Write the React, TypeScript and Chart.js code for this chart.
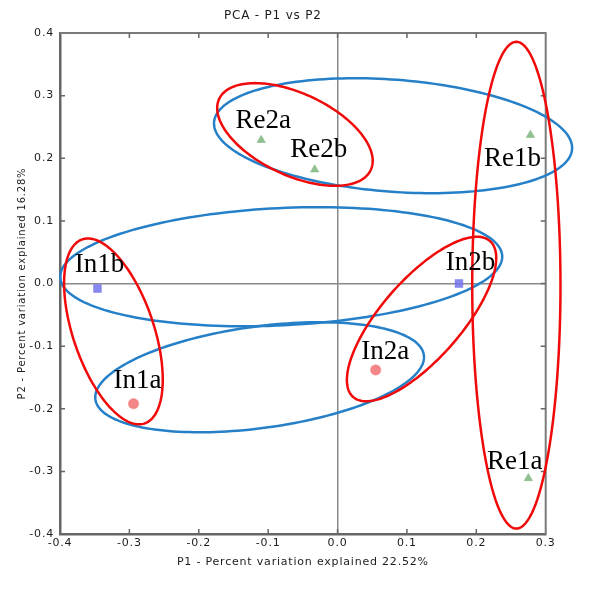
import React, { useEffect, useRef } from 'react';
import { Chart, registerables } from 'chart.js';
Chart.register(...registerables);

// ---- Data ----
const reNames = ['Re2a', 'Re2b', 'Re1b', 'Re1a'];
const reX = [-0.110, -0.033, 0.278, 0.275];
const reY = [0.229, 0.182, 0.237, -0.311];

const inbNames = ['In1b', 'In2b'];
const inbX = [-0.346, 0.175];
const inbY = [-0.008, 0.0];

const inaNames = ['In1a', 'In2a'];
const inaX = [-0.294, 0.055];
const inaY = [-0.192, -0.138];

// Group ellipses (center + two half-axis vectors, in data units)
const blueCX = [0.080, -0.0812, -0.1123];
const blueCY = [0.236, 0.0268, -0.1497];
const blueUX = [0.258, 0.3185, 0.2367];
const blueUY = [-0.0216, 0.0172, 0.0354];
const blueVX = [0.0061, -0.0041, -0.0098];
const blueVY = [0.0892, 0.0935, 0.0804];

const redCX = [-0.0614, 0.2577, -0.3230, 0.1211];
const redCY = [0.2380, -0.0027, -0.0765, -0.0567];
const redUX = [0.1092, 0.0, 0.0448, 0.0986];
const redUY = [-0.0568, 0.3887, -0.1470, 0.1245];
const redVX = [0.0252, 0.0636, 0.0552, 0.0431];
const redVY = [0.0591, 0.0, 0.0205, -0.0417];

const xTitle = 'P1 - Percent variation explained 22.52%';
const yTitle = 'P2 - Percent variation explained 16.28%';
const chartTitle = 'PCA - P1 vs P2';

// label offsets in pixels (style, not data)
const labelOffsets: Record<string, [number, number]> = {
  Re2a: [2, -12], Re2b: [4, -12.6], Re1b: [-18, 31], Re1a: [-13.6, -9.4],
  In1b: [2, -16.6], In2b: [11.5, -13.3], In1a: [4, -16], In2a: [9.5, -11],
};

const SANS = 'DejaVu Sans';
const TXT = '#1c1c1c';

const toPts = (xs: number[], ys: number[]) => xs.map((x, i) => ({ x, y: ys[i] }));

const isZero = (v: any) => v !== undefined && Math.abs(v) < 1e-9;
const fmt = (v: any) => (Math.abs(Number(v)) < 1e-9 ? '0.0' : Number(v).toFixed(1));

export default function App() {
  const ref = useRef<HTMLCanvasElement>(null);
  useEffect(() => {
    const canvas = ref.current!;

    const spacingPlugin = {
      id: 'spacing',
      beforeDraw(chart: any) {
        chart.ctx.letterSpacing = '0.8px';
      },
    };

    const framePlugin = {
      id: 'frame',
      beforeDatasetsDraw(chart: any) {
        const { ctx, chartArea: a, scales } = chart;
        ctx.save();
        ctx.letterSpacing = '0px';
        ctx.strokeStyle = '#7a7a7a';
        ctx.lineWidth = 2;
        ctx.beginPath();
        ctx.moveTo(a.left, a.top);
        ctx.lineTo(a.right, a.top);
        ctx.lineTo(a.right, a.bottom);
        ctx.stroke();
        ctx.strokeStyle = '#666';
        ctx.lineWidth = 1.5;
        const L = 5;
        ctx.beginPath();
        scales.x.ticks.forEach((t: any) => {
          if (Math.abs(t.value - scales.x.min) < 1e-9 || Math.abs(t.value - scales.x.max) < 1e-9) return;
          const px = scales.x.getPixelForValue(t.value);
          ctx.moveTo(px, a.bottom); ctx.lineTo(px, a.bottom - L);
          ctx.moveTo(px, a.top); ctx.lineTo(px, a.top + L);
        });
        scales.y.ticks.forEach((t: any) => {
          if (Math.abs(t.value - scales.y.min) < 1e-9 || Math.abs(t.value - scales.y.max) < 1e-9) return;
          const py = scales.y.getPixelForValue(t.value);
          ctx.moveTo(a.left, py); ctx.lineTo(a.left + L, py);
          ctx.moveTo(a.right, py); ctx.lineTo(a.right - L, py);
        });
        ctx.stroke();
        ctx.restore();
      },
    };

    const drawEllipse = (chart: any, cx: number, cy: number, ux: number, uy: number, vx: number, vy: number, color: string) => {
      const { ctx, scales } = chart;
      ctx.beginPath();
      const N = 180;
      for (let i = 0; i <= N; i++) {
        const t = (i / N) * Math.PI * 2;
        const dx = cx + ux * Math.cos(t) + vx * Math.sin(t);
        const dy = cy + uy * Math.cos(t) + vy * Math.sin(t);
        const px = scales.x.getPixelForValue(dx);
        const py = scales.y.getPixelForValue(dy);
        if (i === 0) ctx.moveTo(px, py); else ctx.lineTo(px, py);
      }
      ctx.closePath();
      ctx.strokeStyle = color;
      ctx.lineWidth = 2.5;
      ctx.stroke();
    };

    const ellipsePlugin = {
      id: 'ellipses',
      afterDatasetsDraw(chart: any) {
        const { ctx } = chart;
        ctx.save();
        blueCX.forEach((_, i) => drawEllipse(chart, blueCX[i], blueCY[i], blueUX[i], blueUY[i], blueVX[i], blueVY[i], 'rgb(38,128,200)'));
        redCX.forEach((_, i) => drawEllipse(chart, redCX[i], redCY[i], redUX[i], redUY[i], redVX[i], redVY[i], 'rgb(240,10,10)'));
        ctx.restore();
      },
    };

    const labelPlugin = {
      id: 'pointLabels',
      afterDatasetsDraw(chart: any) {
        const { ctx, scales } = chart;
        ctx.save();
        ctx.letterSpacing = '0px';
        ctx.font = '27px "Liberation Serif", "Times New Roman", serif';
        ctx.fillStyle = '#000';
        ctx.textAlign = 'center';
        ctx.textBaseline = 'alphabetic';
        const groups: [string[], number[], number[]][] = [
          [reNames, reX, reY], [inbNames, inbX, inbY], [inaNames, inaX, inaY],
        ];
        groups.forEach(([names, xs, ys]) => {
          names.forEach((n, i) => {
            const px = scales.x.getPixelForValue(xs[i]);
            const py = scales.y.getPixelForValue(ys[i]);
            const off = labelOffsets[n] || [0, -12];
            ctx.fillText(n, px + off[0], py + off[1]);
          });
        });
        ctx.restore();
      },
    };

    const chart = new Chart(canvas, {
      type: 'scatter',
      data: {
        datasets: [
          {
            label: 'Re',
            data: toPts(reX, reY),
            pointStyle: 'triangle',
            pointRadius: 4.8,
            backgroundColor: 'rgba(125,180,125,0.85)',
            borderColor: 'rgba(125,180,125,0.5)',
            borderWidth: 1,
          },
          {
            label: 'In b',
            data: toPts(inbX, inbY),
            pointStyle: 'rect',
            pointRadius: 5.5,
            backgroundColor: 'rgba(115,115,235,0.85)',
            borderColor: 'rgba(115,115,235,0.5)',
            borderWidth: 1,
          },
          {
            label: 'In a',
            data: toPts(inaX, inaY),
            pointStyle: 'circle',
            pointRadius: 5,
            backgroundColor: 'rgba(240,105,105,0.8)',
            borderColor: 'rgba(240,105,105,0.4)',
            borderWidth: 1.5,
          },
        ],
      },
      options: {
        responsive: false,
        animation: false,
        devicePixelRatio: 1,
        layout: { padding: { left: 0, right: 54.3, top: 0, bottom: 0 } },
        plugins: {
          legend: { display: false },
          tooltip: { enabled: false },
          title: {
            display: true,
            text: chartTitle,
            color: TXT,
            font: { family: SANS, size: 12, weight: 'normal' },
            padding: { top: 9, bottom: 9.6 },
          },
        },
        scales: {
          x: {
            type: 'linear',
            position: 'bottom',
            min: -0.4,
            max: 0.3,
            afterFit: (s: any) => { s.height = 55; },
            ticks: {
              stepSize: 0.1,
              autoSkip: false,
              maxRotation: 0,
              padding: 3,
              color: TXT,
              font: { family: SANS, size: 11 },
              callback: fmt,
            },
            grid: {
              drawTicks: false,
              lineWidth: 1.5,
              color: (c: any) => (isZero(c.tick?.value) ? '#8a8a8a' : 'rgba(0,0,0,0)'),
            },
            border: { display: true, color: '#666', width: 2.5 },
            title: {
              display: true,
              text: xTitle,
              color: TXT,
              font: { family: SANS, size: 11 },
              padding: { top: 0, bottom: 20.4 },
            },
          },
          y: {
            type: 'linear',
            position: 'left',
            min: -0.4,
            max: 0.4,
            afterFit: (s: any) => { s.width = 60; },
            ticks: {
              stepSize: 0.1,
              autoSkip: false,
              padding: 6,
              color: TXT,
              font: { family: SANS, size: 11 },
              callback: fmt,
            },
            grid: {
              drawTicks: false,
              lineWidth: 1.5,
              color: (c: any) => (isZero(c.tick?.value) ? '#8a8a8a' : 'rgba(0,0,0,0)'),
            },
            border: { display: true, color: '#666', width: 2.5 },
            title: {
              display: true,
              text: yTitle,
              color: TXT,
              font: { family: SANS, size: 10 },
              padding: { top: 16, bottom: 0 },
            },
          },
        },
      } as any,
      plugins: [spacingPlugin, framePlugin, ellipsePlugin, labelPlugin],
    });
    return () => chart.destroy();
  }, []);

  return (
    <div style={{ position: 'absolute', left: 0, top: 0, width: 600, height: 589, background: '#fff' }}>
      <canvas ref={ref} width={600} height={589} style={{ display: 'block', width: 600, height: 589 }} />
    </div>
  );
}
